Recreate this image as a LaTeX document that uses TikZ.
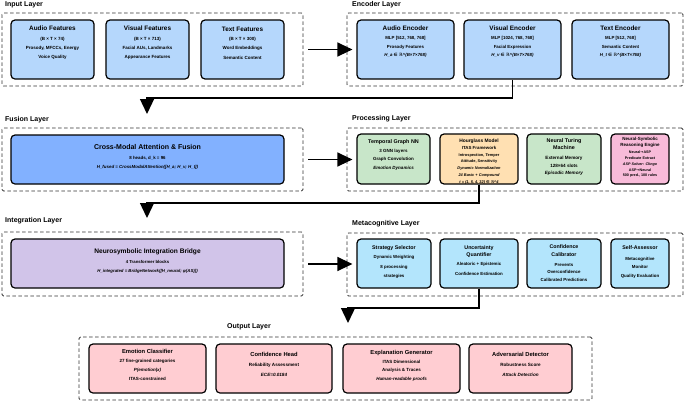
\documentclass[tikz,border=0pt]{standalone}
\usepackage{fontspec}
\setmainfont{Liberation Sans}
\newfontfamily\djv{DejaVu Sans}
\usetikzlibrary{arrows.meta}
\definecolor{cIn}{HTML}{B5D7FC}
\definecolor{cFus}{HTML}{82B1FF}
\definecolor{cGreen}{HTML}{C8E6C9}
\definecolor{cOrange}{HTML}{FFE0B2}
\definecolor{cPink}{HTML}{F8BBD9}
\definecolor{cPurple}{HTML}{D1C4E9}
\definecolor{cCyan}{HTML}{B3E5FC}
\definecolor{cOut}{HTML}{FFCDD2}
\newcommand{\Ttl}[2]{{\fontsize{#1}{#1}\selectfont #2}}
\newcommand{\inR}{{\djv ∈ ℝ}}
\newcommand{\rarr}{{\djv →}}
\tikzset{
  box/.style={draw=black, line width=1.2pt, rounded corners=4pt, inner sep=0pt},
  layerbox/.style={draw=black!80, dash pattern=on 3.5pt off 2.5pt, line width=0.8pt, rounded corners=1.5pt, inner sep=0pt},
  ltitle/.style={anchor=west, font=\bfseries\fontsize{7}{8}\selectfont, inner sep=0pt},
  txt/.style={align=center, inner sep=0pt},
  arr/.style={line width=1.3pt, -{Triangle[length=15pt,width=14pt]}},
}
% name, x1, y1, x2, y2, style, text-centre y, font, text
\newcommand{\mkbox}[9]{%
  \node[box,#6,minimum width={(#4-#2)*1pt},minimum height={(#5-#3)*1pt}] (#1) at ({(#2+#4)/2},{(#3+#5)/2}) {};
  \node[txt,font=#8] (#1t) at ({(#2+#4)/2},#7) {#9};}
\newcommand{\mklayer}[5]{%
  \node[layerbox,minimum width={(#4-#2)*1pt},minimum height={(#5-#3)*1pt}] (#1) at ({(#2+#4)/2},{(#3+#5)/2}) {};}
\begin{document}
\begin{tikzpicture}[x=1pt,y=-1pt]
\useasboundingbox (0,0) rectangle (685,402);
% ---------- layers ----------
\mklayer{inC}{2}{13}{303}{86}
\mklayer{encC}{347}{13}{683}{86}
\mklayer{fuC}{2}{128}{303}{191}
\mklayer{prC}{347}{128}{683}{191}
\mklayer{itC}{2}{232}{303}{296}
\mklayer{meC}{347}{233}{683}{296}
\mklayer{ouC}{79}{337}{592}{400}
\node[ltitle] (tin) at (5,4.5) {Input Layer};
\node[ltitle] (tenc) at (352,4.5) {Encoder Layer};
\node[ltitle] (tfu) at (5,120) {Fusion Layer};
\node[ltitle] (tpr) at (352,118.5) {Processing Layer};
\node[ltitle] (tit) at (5,220.5) {Integration Layer};
\node[ltitle] (tme) at (352,224) {Metacognitive Layer};
\node[ltitle] (tou) at (227,327) {Output Layer};
% ---------- input ----------
\mkbox{ain}{11}{20}{94}{79}{fill=cIn}{43}{\bfseries\fontsize{4.5}{9.3}\selectfont}{\Ttl{6.4}{Audio Features}\\(B × T × 74)\\Prosody, MFCCs, Energy\\Voice Quality}
\mkbox{vin}{106}{20}{189}{79}{fill=cIn}{43}{\bfseries\fontsize{4.5}{9.3}\selectfont}{\Ttl{6.4}{Visual Features}\\(B × T × 713)\\Facial AUs, Landmarks\\Appearance Features}
\mkbox{tin}{201}{20}{284}{79}{fill=cIn}{43}{\bfseries\fontsize{4.5}{9.3}\selectfont}{\Ttl{6.4}{Text Features}\\(B × T × 300)\\Word Embeddings\\Semantic Content}
% ---------- encoder ----------
\mkbox{aenc}{357}{20}{454}{79}{fill=cIn}{42}{\bfseries\fontsize{4.4}{8.7}\selectfont}{\Ttl{6.4}{Audio Encoder}\\MLP [512, 768, 768]\\Prosody Features\\\textit{H\_a \inR\textasciicircum(B×T×768)}}
\mkbox{venc}{464}{20}{561}{79}{fill=cIn}{42}{\bfseries\fontsize{4.4}{8.7}\selectfont}{\Ttl{6.4}{Visual Encoder}\\MLP [1024, 768, 768]\\Facial Expression\\\textit{H\_v \inR\textasciicircum(B×T×768)}}
\mkbox{tenc}{572}{20}{669}{79}{fill=cIn}{42}{\bfseries\fontsize{4.4}{8.7}\selectfont}{\Ttl{6.4}{Text Encoder}\\MLP [512, 768]\\Semantic Content\\\textit{H\_t \inR\textasciicircum(B×T×768)}}
% ---------- fusion ----------
\mkbox{fus}{11}{135}{284}{184}{fill=cFus}{157}{\bfseries\fontsize{4.4}{9}\selectfont}{\Ttl{7}{Cross-Modal Attention \& Fusion}\\[1.5pt]8 heads, d\_k = 96\\\textit{H\_fused = CrossModalAttention([H\_a; H\_v; H\_t])}}
% ---------- processing ----------
\mkbox{tgnn}{357}{134}{430}{184}{fill=cGreen}{155}{\bfseries\fontsize{4.5}{8.7}\selectfont}{\Ttl{5.4}{Temporal Graph NN}\\3 GNN layers\\Graph Convolution\\\textit{Emotion Dynamics}}
\mkbox{hg}{440}{134}{518}{184}{fill=cOrange}{161.5}{\bfseries\fontsize{3.9}{6.8}\selectfont}{\Ttl{4.9}{Hourglass Model}\\\Ttl{4.4}{ITAS Framework}\\Introspection, Temper\\Attitude, Sensitivity\\\textit{Dynamic Normalization}\\\textit{24 Basic + Compound}\\\textit{t = (1, 5, 4, 32) \inR\textasciicircum 4}}
\mkbox{ntm}{527}{134}{601}{184}{fill=cGreen}{157}{\bfseries\fontsize{4.6}{7.5}\selectfont}{\Ttl{5.4}{Neural Turing}\\\Ttl{5.4}{Machine}\\[2.5pt]External Memory\\128×64 slots\\\textit{Episodic Memory}}
\mkbox{nsr}{611}{134}{669}{184}{fill=cPink}{157.5}{\bfseries\fontsize{3.7}{5.9}\selectfont}{\Ttl{4.5}{Neural-Symbolic}\\\Ttl{4.5}{Reasoning Engine}\\[1pt]Neural\rarr ASP\\Predicate Extract\\\textit{ASP Solver: Clingo}\\ASP\rarr Neural\\500 pred., 100 rules}
% ---------- integration ----------
\mkbox{bri}{11}{239}{284}{288}{fill=cPurple}{261.5}{\bfseries\fontsize{4.3}{9}\selectfont}{\Ttl{6.6}{Neurosymbolic Integration Bridge}\\[1pt]4 Transformer blocks\\\textit{H\_integrated = BridgeNetwork([H\_neural; φ(AS)])}}
% ---------- metacognitive ----------
\mkbox{ss}{357}{239}{431}{288}{fill=cCyan}{262}{\bfseries\fontsize{4.4}{9.2}\selectfont}{\Ttl{5.3}{Strategy Selector}\\Dynamic Weighting\\8 processing\\strategies}
\mkbox{uq}{440}{239}{518}{288}{fill=cCyan}{260.5}{\bfseries\fontsize{4.4}{9.8}\selectfont}{\Ttl{5.3}{Uncertainty}\\[-2.8pt]\Ttl{5.3}{Quantifier}\\Aleatoric + Epistemic\\Confidence Estimation}
\mkbox{cc}{527}{239}{601}{288}{fill=cCyan}{263}{\bfseries\fontsize{4.4}{7.6}\selectfont}{\Ttl{5.3}{Confidence}\\\Ttl{5.3}{Calibrator}\\[2.4pt]Prevents\\Overconfidence\\Calibrated Predictions}
\mkbox{sa}{611}{239}{669}{288}{fill=cCyan}{262}{\bfseries\fontsize{4.4}{8.5}\selectfont}{\Ttl{5.3}{Self-Assessor}\\[2pt]Metacognitive\\Monitor\\Quality Evaluation}
% ---------- output ----------
\mkbox{ec}{89}{344}{206}{393}{fill=cOut}{365}{\bfseries\fontsize{4.5}{8.8}\selectfont}{\Ttl{5.8}{Emotion Classifier}\\27 fine-grained categories\\\textit{P(emotion|x)}\\ITAS-constrained}
\mkbox{ch}{216}{344}{332}{393}{fill=cOut}{364}{\bfseries\fontsize{4.6}{10}\selectfont}{\Ttl{5.8}{Confidence Head}\\Reliability Assessment\\\textit{ECE=0.0184}}
\mkbox{eg}{343}{344}{460}{393}{fill=cOut}{366}{\bfseries\fontsize{4.5}{8.7}\selectfont}{\Ttl{5.8}{Explanation Generator}\\ITAS Dimensional\\Analysis \& Traces\\\textit{Human-readable proofs}}
\mkbox{ad}{469}{344}{572}{393}{fill=cOut}{364}{\bfseries\fontsize{4.6}{10}\selectfont}{\Ttl{5.8}{Adversarial Detector}\\Robustness Score\\\textit{Attack Detection}}
% ---------- connectors ----------
\coordinate (j1) at (147,98);
\coordinate (j1e) at (147,114);
\coordinate (j2) at (147,203);
\coordinate (j2e) at (147,218);
\coordinate (j3) at (348,308);
\coordinate (j3e) at (348,323);
\draw[arr, shorten <=5pt, shorten >=4pt] (inC.east) -- (inC.east -| aenc.west);
\draw[arr] (venc.south) |- (j1) -- (j1e);
\draw[arr, shorten <=5pt, shorten >=4pt] (fuC.east) -- (fuC.east -| tgnn.west);
\draw[arr] (hg.south) |- (j2) -- (j2e);
\draw[arr, shorten <=5pt, shorten >=4pt] (itC.east) -- (itC.east -| ss.west);
\draw[arr] (uq.south) |- (j3) -- (j3e);
\end{tikzpicture}
\end{document}
